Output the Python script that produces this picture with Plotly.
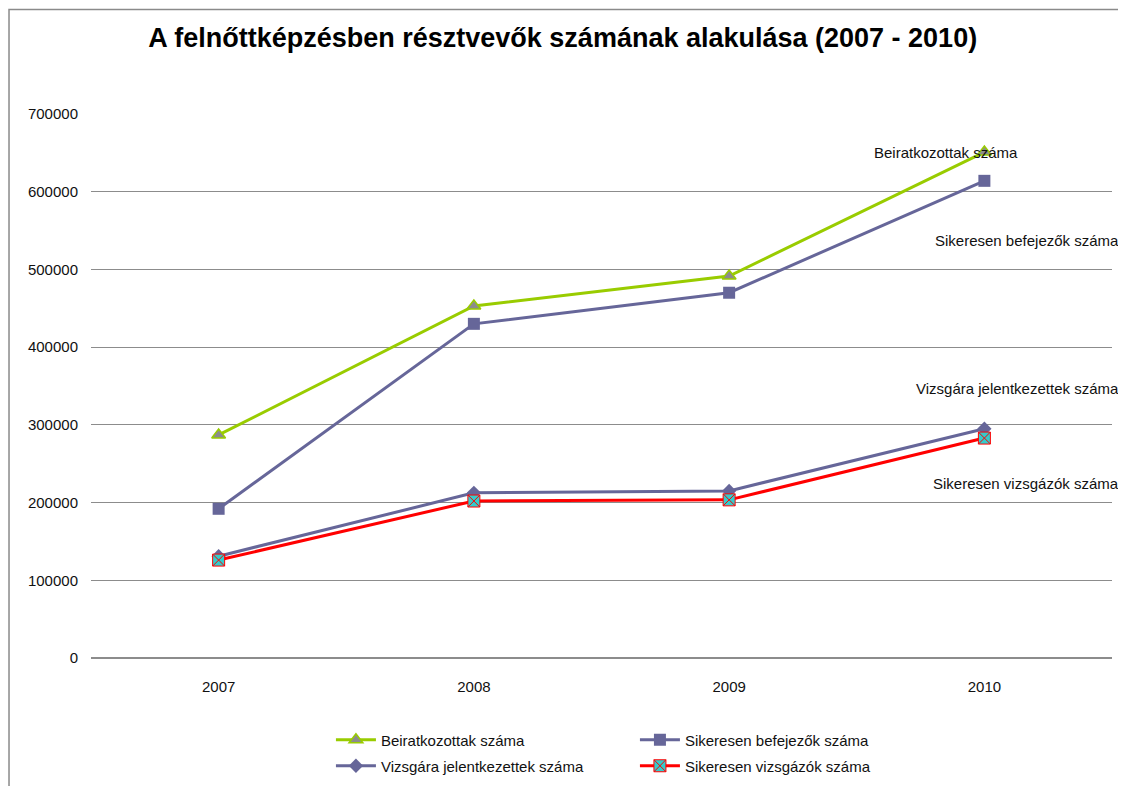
import plotly.graph_objects as go

years = ["2007", "2008", "2009", "2010"]
beiratkozottak = [287000, 453000, 491500, 651000]
sikeres_befejezok = [192000, 430000, 470000, 614000]
vizsgara_jelentkezettek = [131000, 212500, 215000, 295000]
sikeres_vizsgazok = [126000, 202000, 203500, 283000]

series = [
    ("Beiratkozottak száma", beiratkozottak, "#99cc00",
     dict(symbol="triangle-up", size=12, color="#8c8c8c", line=dict(color="#99cc00", width=1.5)), "legend"),
    ("Sikeresen befejezők száma", sikeres_befejezok, "#666699",
     dict(symbol="square", size=12, color="#666699"), "legend"),
    ("Vizsgára jelentkezettek száma", vizsgara_jelentkezettek, "#666699",
     dict(symbol="diamond", size=11, color="#666699"), "legend2"),
    ("Sikeresen vizsgázók száma", sikeres_vizsgazok, "#ff0000",
     dict(symbol="square-x", size=12, color="#33cccc", line=dict(color="#ff0000", width=1)), "legend2"),
]

fig = go.Figure()
for name, vals, col, mk, lg in series:
    fig.add_trace(go.Scatter(x=years, y=vals, name=name, mode="lines+markers",
                             line=dict(color=col, width=3), marker=mk, legend=lg))

# labels next to the last point of each series
label_pos = [
    ("center", -38, 0),
    ("right", 137, -60),
    ("right", 137, 40),
    ("right", 137, -45),
]
annotations = []
for s, (anchor, dx, dy) in zip(series, label_pos):
    annotations.append(dict(xref="x", yref="y", x=len(years) - 1, y=s[1][-1], text=s[0],
                            showarrow=False, xanchor=anchor, yanchor="middle",
                            xshift=dx, yshift=dy, font=dict(size=15, color="#111")))

# outer chart frame
fig.add_shape(type="rect", xref="paper", yref="paper", x0=-0.0803, x1=1.0098,
              y0=-0.3, y1=1.192, line=dict(color="#8a8a8a", width=1.5), layer="below")

legend_style = dict(orientation="h", x=0.235, xanchor="left", yref="container",
                    yanchor="middle", entrywidth=249, entrywidthmode="pixels",
                    font=dict(size=15), itemwidth=40, tracegroupgap=0)

fig.update_layout(
    width=1118, height=778,
    margin=dict(l=83, r=14, t=106, b=128),
    paper_bgcolor="white", plot_bgcolor="white",
    font=dict(family="Liberation Sans, Arial", size=15, color="#111"),
    annotations=annotations,
    title=dict(text="<b>A felnőttképzésben résztvevők számának alakulása (2007 - 2010)</b>",
               x=0.462, xanchor="center", xref="paper", y=0.9614, yanchor="middle",
               font=dict(size=27, color="black")),
    xaxis=dict(type="category", range=[-0.5, 3.5], showgrid=False, showline=False,
               zeroline=False, ticks="", ticklabelstandoff=18),
    yaxis=dict(range=[0, 700000], dtick=100000, tickformat="d", showgrid=True,
               gridcolor="#8c8c8c", gridwidth=1, zeroline=True, zerolinecolor="#8c8c8c",
               showline=False, ticks="", ticklabelstandoff=12),
    legend=dict(legend_style, y=0.0591),
    legend2=dict(legend_style, y=0.0257),
)

fig.write_html("out.html")
